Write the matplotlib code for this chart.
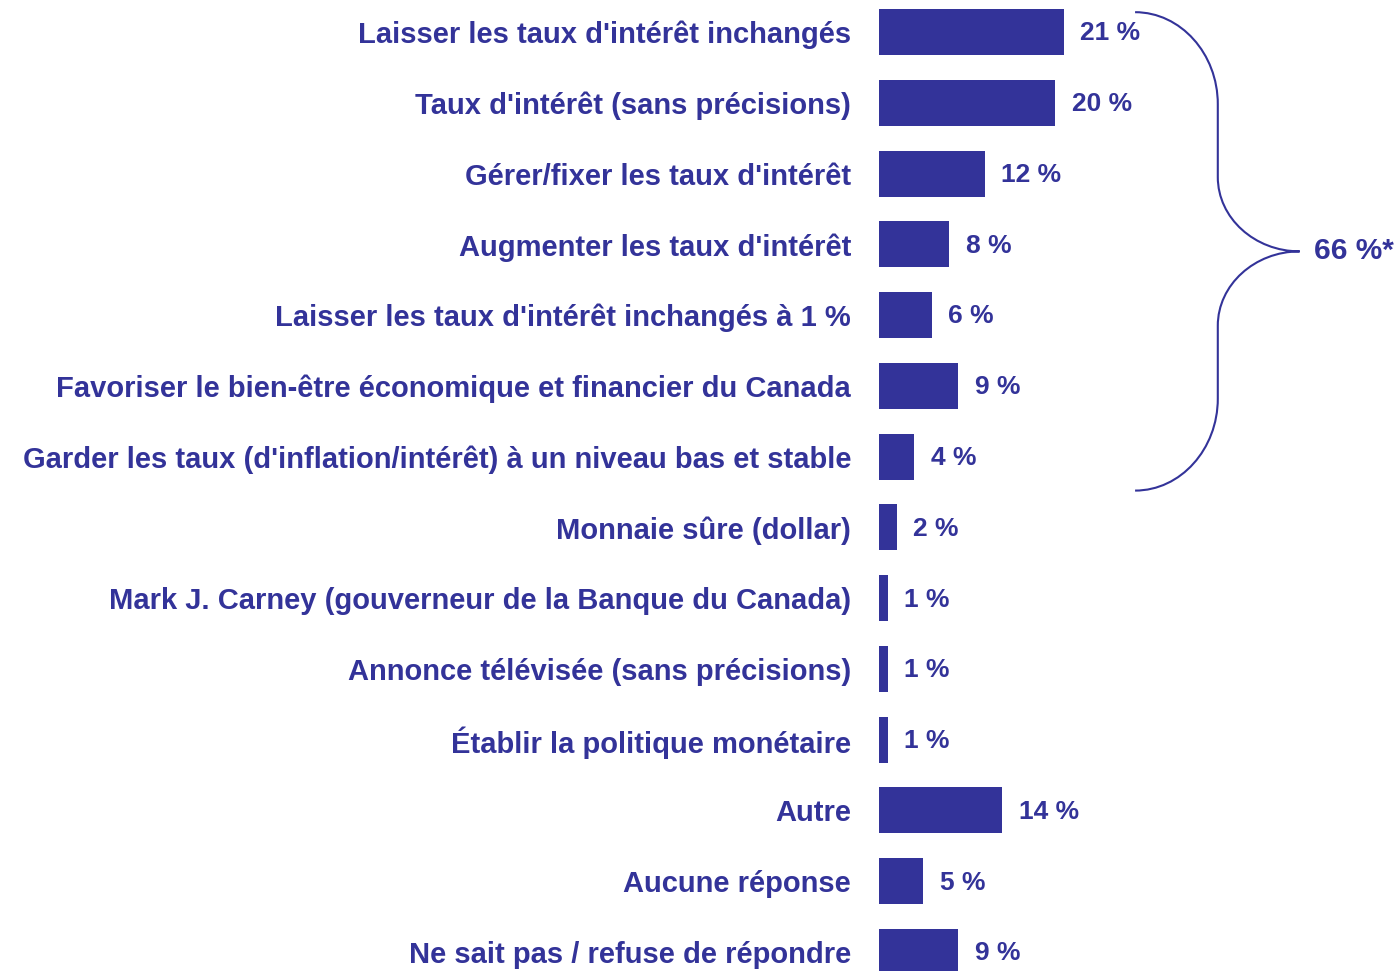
import matplotlib
matplotlib.use("Agg")
import matplotlib.pyplot as plt
from matplotlib.path import Path
from matplotlib.patches import PathPatch

categories = [
    "Laisser les taux d'intérêt inchangés",
    "Taux d'intérêt (sans précisions)",
    "Gérer/fixer les taux d'intérêt",
    "Augmenter les taux d'intérêt",
    "Laisser les taux d'intérêt inchangés à 1 %",
    "Favoriser le bien-être économique et financier du Canada",
    "Garder les taux (d'inflation/intérêt) à un niveau bas et stable",
    "Monnaie sûre (dollar)",
    "Mark J. Carney (gouverneur de la Banque du Canada)",
    "Annonce télévisée (sans précisions)",
    "Établir la politique monétaire",
    "Autre",
    "Aucune réponse",
    "Ne sait pas / refuse de répondre",
]
values = [21, 20, 12, 8, 6, 9, 4, 2, 1, 1, 1, 14, 5, 9]
value_labels = [f"{v} %" for v in values]
group_label = "66 %*"
group_rows = (0, 6)

COLOR = "#333399"
plt.rcParams['font.family'] = ['Liberation Sans', 'DejaVu Sans']

W, H = 1400, 971
fig = plt.figure(figsize=(W / 100, H / 100), dpi=100)
spacing = 70.77
top_center = 32
ax_top = top_center - spacing / 2
ax_h = spacing * len(categories)
left = 879
ax = fig.add_axes([left / W, (H - (ax_top + ax_h)) / H, (W - left) / W, ax_h / H])
pxper = 8.8
ax.set_xlim(0, (W - left) / pxper)
ax.set_ylim(len(categories) - 0.5, -0.5)

ys = list(range(len(categories)))
ax.barh(ys, values, height=0.65, color=COLOR)
for y, v, lab in zip(ys, values, value_labels):
    ax.annotate(lab, (v, y), xytext=(12, -1), textcoords="offset points",
                va="center", ha="left", fontsize=19, fontweight="bold", color=COLOR)

ax.set_yticks(ys)
ax.set_yticklabels(categories, fontsize=21, fontweight="bold", color=COLOR)
ax.tick_params(axis="y", length=0, pad=20)
ax.set_xticks([])
for s in ax.spines.values():
    s.set_visible(False)

# brace
y0 = group_rows[0] - 0.28
y1 = group_rows[1] + 0.48
ym = (y0 + y1) / 2
x0, xv, xt = 29.1, 38.5, 47.8
ry = 1.3
ryt = 1.05
k = 0.55
verts = [
    (x0, y0),
    (x0 + k * (xv - x0), y0), (xv, y0 + (1 - k) * ry), (xv, y0 + ry),
    (xv, ym - ryt),
    (xv, ym - (1 - k) * ryt), (xv + (1 - k) * (xt - xv), ym), (xt, ym),
    (xv + (1 - k) * (xt - xv), ym), (xv, ym + (1 - k) * ryt), (xv, ym + ryt),
    (xv, y1 - ry),
    (xv, y1 - (1 - k) * ry), (x0 + k * (xv - x0), y1), (x0, y1),
]
codes = [Path.MOVETO,
         Path.CURVE4, Path.CURVE4, Path.CURVE4,
         Path.LINETO,
         Path.CURVE4, Path.CURVE4, Path.CURVE4,
         Path.CURVE4, Path.CURVE4, Path.CURVE4,
         Path.LINETO,
         Path.CURVE4, Path.CURVE4, Path.CURVE4]
ax.add_patch(PathPatch(Path(verts, codes), fill=False, edgecolor=COLOR, lw=1.5, clip_on=False))
ax.annotate(group_label, (xt, ym), xytext=(10, 0), textcoords="offset points",
            va="center", ha="left", fontsize=21.5, fontweight="bold", color=COLOR)

fig.savefig("out.png", dpi=100)
